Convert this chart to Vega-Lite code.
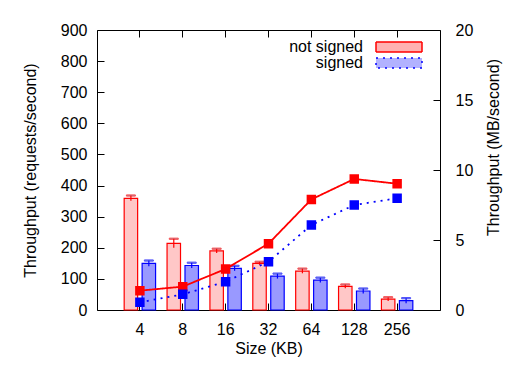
{
  "$schema": "https://vega.github.io/schema/vega-lite/v6.json",
  "width": 343,
  "height": 280,
  "autosize": {"type": "none"},
  "padding": {"left": 97, "top": 30, "right": 85, "bottom": 59},
  "background": "white",
  "config": {
    "view": {"stroke": "black", "strokeWidth": 1},
    "font": "Liberation Sans",
    "axis": {
      "domain": false,
      "grid": false,
      "ticks": true,
      "tickColor": "#000000",
      "tickWidth": 1,
      "tickSize": 7,
      "offset": -7,
      "labelOverlap": false,
      "labelFont": "Liberation Sans",
      "labelFontSize": 16,
      "labelColor": "black",
      "titleFont": "Liberation Sans",
      "titleFontSize": 16,
      "titleFontWeight": "normal",
      "titleColor": "black"
    },
    "axisLeft": {"labelPadding": 10, "titlePadding": 22, "tickCount": 9},
    "axisRight": {"labelPadding": 15, "titlePadding": 13, "titleAngle": 270, "titleBaseline": "top", "titleY": 117, "labelAlign": "left", "tickCount": 4},
    "axisBottom": {"labelPadding": 11, "titlePadding": 3, "labelAngle": 0},
    "axisTop": {"labels": false},
    "legend": {
      "labelFont": "Liberation Sans",
      "labelFontSize": 16,
      "labelColor": "black"
    }
  },
  "data": {
    "values": [
      {"size": "4", "series": "not signed", "rps": 359, "rps_lo": 351, "rps_hi": 368, "mbps": 1.38, "mbps_lo": 1.2, "mbps_hi": 1.56},
      {"size": "8", "series": "not signed", "rps": 214, "rps_lo": 200, "rps_hi": 229, "mbps": 1.67, "mbps_lo": 1.5, "mbps_hi": 1.84},
      {"size": "16", "series": "not signed", "rps": 190, "rps_lo": 183, "rps_hi": 197, "mbps": 2.93, "mbps_lo": 2.76, "mbps_hi": 3.1},
      {"size": "32", "series": "not signed", "rps": 150, "rps_lo": 145, "rps_hi": 155, "mbps": 4.74, "mbps_lo": 4.57, "mbps_hi": 4.91},
      {"size": "64", "series": "not signed", "rps": 125, "rps_lo": 118, "rps_hi": 133, "mbps": 7.9, "mbps_lo": 7.72, "mbps_hi": 8.08},
      {"size": "128", "series": "not signed", "rps": 76, "rps_lo": 70, "rps_hi": 82, "mbps": 9.36, "mbps_lo": 9.1, "mbps_hi": 9.62},
      {"size": "256", "series": "not signed", "rps": 35, "rps_lo": 29, "rps_hi": 41, "mbps": 9.02, "mbps_lo": 8.76, "mbps_hi": 9.28},
      {"size": "4", "series": "signed", "rps": 150, "rps_lo": 141, "rps_hi": 159, "mbps": 0.55, "mbps_lo": 0.45, "mbps_hi": 0.65},
      {"size": "8", "series": "signed", "rps": 143, "rps_lo": 135, "rps_hi": 152, "mbps": 1.12, "mbps_lo": 1.02, "mbps_hi": 1.22},
      {"size": "16", "series": "signed", "rps": 134, "rps_lo": 126, "rps_hi": 142, "mbps": 2.02, "mbps_lo": 1.92, "mbps_hi": 2.12},
      {"size": "32", "series": "signed", "rps": 109, "rps_lo": 101, "rps_hi": 117, "mbps": 3.45, "mbps_lo": 3.35, "mbps_hi": 3.55},
      {"size": "64", "series": "signed", "rps": 96, "rps_lo": 88, "rps_hi": 104, "mbps": 6.07, "mbps_lo": 5.97, "mbps_hi": 6.17},
      {"size": "128", "series": "signed", "rps": 61, "rps_lo": 53, "rps_hi": 69, "mbps": 7.5, "mbps_lo": 7.4, "mbps_hi": 7.6},
      {"size": "256", "series": "signed", "rps": 30, "rps_lo": 22, "rps_hi": 38, "mbps": 7.98, "mbps_lo": 7.88, "mbps_hi": 8.08}
    ]
  },
  "layer": [
    {
      "encoding": {
        "x": {
          "field": "size", "type": "ordinal",
          "sort": ["4", "8", "16", "32", "64", "128", "256"],
          "scale": {"paddingInner": 0, "paddingOuter": 0.5},
          "axis": {"orient": "bottom", "title": "Size (KB)"}
        },
        "xOffset": {
          "field": "series", "type": "nominal",
          "scale": {"paddingInner": 0.25, "paddingOuter": 0.32}
        }
      },
      "layer": [
        {
          "mark": {"type": "bar", "strokeWidth": 1.2},
          "encoding": {
            "y": {
              "field": "rps", "type": "quantitative",
              "scale": {"domain": [0, 900], "nice": false},
              "axis": {"orient": "left", "title": "Throughput (requests/second)"}
            },
            "fill": {
              "field": "series", "type": "nominal",
              "scale": {"domain": ["not signed", "signed"], "range": ["#ff0000", "#0000ff"]},
              "legend": {
                "title": null,
                "orient": "none",
                "legendX": 294,
                "legendY": 9,
                "symbolType": "M-4.6,-1L4.6,-1L4.6,1L-4.6,1Z",
                "symbolSize": 100,
                "symbolStrokeWidth": 1.5,
                "labelAlign": "right",
                "labelOffset": -44,
                "rowPadding": 0,
                "encode": {"symbols": {"update": {"fillOpacity": {"value": 0.3}}}}
              }
            },
            "fillOpacity": {
              "field": "series", "type": "nominal",
              "scale": {"domain": ["not signed", "signed"], "range": [0.22, 0.4]},
              "legend": null
            },
            "stroke": {
              "field": "series", "type": "nominal",
              "scale": {"domain": ["not signed", "signed"], "range": ["#ff0000", "#0000ff"]},
              "legend": {
                "title": null,
                "orient": "none",
                "legendX": 294,
                "legendY": 9,
                "symbolType": "M-4.6,-1L4.6,-1L4.6,1L-4.6,1Z",
                "symbolSize": 100,
                "symbolStrokeWidth": 1.5,
                "labelAlign": "right",
                "labelOffset": -44,
                "rowPadding": 0,
                "encode": {"symbols": {"update": {"fillOpacity": {"value": 0.3}}}}
              }
            }
          }
        },
        {
          "mark": {"type": "rule", "strokeWidth": 1.2},
          "encoding": {
            "y": {"field": "rps_lo", "type": "quantitative", "axis": {"orient": "left", "title": "Throughput (requests/second)"}},
            "y2": {"field": "rps_hi"},
            "stroke": {"field": "series", "type": "nominal"}
          }
        },
        {
          "mark": {"type": "tick", "size": 9, "thickness": 1.2},
          "encoding": {
            "y": {"field": "rps_hi", "type": "quantitative", "axis": {"orient": "left", "title": "Throughput (requests/second)"}},
            "stroke": {"field": "series", "type": "nominal"}
          }
        }
      ]
    },
    {
      "encoding": {
        "x": {
          "field": "size", "type": "ordinal",
          "sort": ["4", "8", "16", "32", "64", "128", "256"],
          "axis": {"orient": "top", "title": null}
        }
      },
      "layer": [
        {
          "mark": {"type": "line", "strokeWidth": 1.8},
          "encoding": {
            "y": {
              "field": "mbps", "type": "quantitative",
              "scale": {"domain": [0, 20], "nice": false},
              "axis": {"orient": "right", "title": "Throughput (MB/second)"}
            },
            "stroke": {"field": "series", "type": "nominal"},
            "strokeDash": {
              "field": "series", "type": "nominal",
              "scale": {"domain": ["not signed", "signed"], "range": [[1, 0], [2, 5]]},
              "legend": null
            }
          }
        },
        {
          "mark": {"type": "rule", "strokeWidth": 1.5},
          "encoding": {
            "y": {"field": "mbps_lo", "type": "quantitative", "axis": {"orient": "right", "title": "Throughput (MB/second)"}},
            "y2": {"field": "mbps_hi"},
            "stroke": {"field": "series", "type": "nominal"}
          }
        },
        {
          "mark": {"type": "point", "shape": "square", "size": 50, "filled": true, "strokeWidth": 2.4, "fillOpacity": 1},
          "encoding": {
            "y": {"field": "mbps", "type": "quantitative", "axis": {"orient": "right", "title": "Throughput (MB/second)"}},
            "stroke": {"field": "series", "type": "nominal"},
            "fill": {"field": "series", "type": "nominal"}
          }
        }
      ]
    }
  ],
  "resolve": {"scale": {"y": "independent"}, "axis": {"x": "independent"}}
}
